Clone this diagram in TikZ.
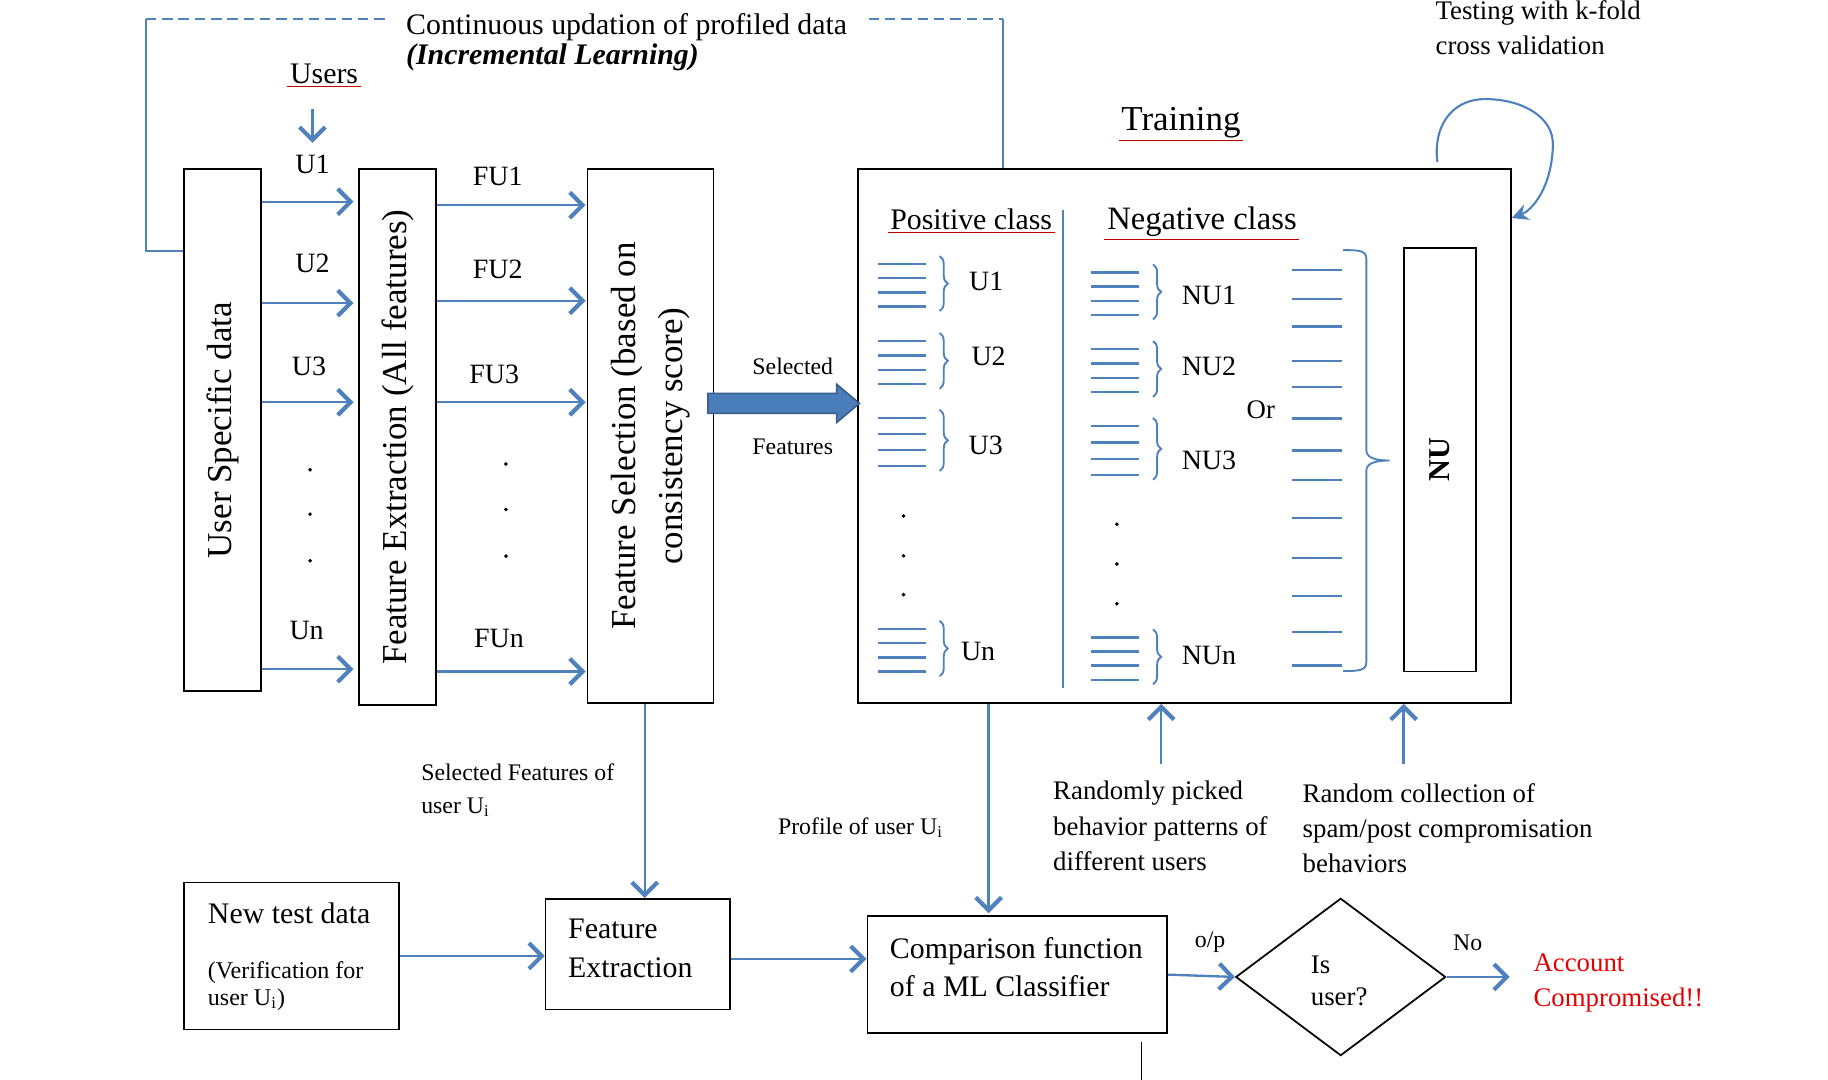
\documentclass[tikz,border=0pt]{standalone}
\usepackage{fontspec}
\setmainfont{Liberation Serif}
\usetikzlibrary{arrows.meta,shapes.geometric,shapes.arrows,decorations.pathreplacing}
\definecolor{lineblue}{RGB}{79,129,189}
\definecolor{fillblue}{RGB}{74,126,187}
\definecolor{darkblue}{RGB}{56,93,138}
\definecolor{ulred}{RGB}{192,0,0}
\definecolor{alertred}{RGB}{228,0,0}
\tikzset{
  every node/.style={inner sep=0pt},
  box/.style={draw, line width=0.75pt},
  arr/.style={lineblue, line width=1pt, -{Straight Barb[length=5.5pt,width=11pt,line width=1.8pt]}},
  bline/.style={lineblue, line width=1pt},
  fb/.style={lineblue, line width=0.8pt},
  dsh/.style={fb, dash pattern=on 4.5pt off 2.5pt},
  ul/.style={inner sep=1pt, append after command={(\tikzlastnode.south west) edge[draw=ulred, line width=0.5pt] (\tikzlastnode.south east)}},
  f10/.style={font=\fontsize{10.2}{14}\selectfont},
  f11/.style={font=\fontsize{11.5}{15.3}\selectfont},
  f12/.style={font=\fontsize{12}{14}\selectfont},
  f13/.style={font=\fontsize{12.8}{16.5}\selectfont},
  f15/.style={font=\fontsize{15}{20}\selectfont}
}
\begin{document}
\begin{tikzpicture}[x=0.5pt, y=-0.5pt]
    \useasboundingbox (0,0) rectangle (1568,926);
    \node[box, minimum width=33pt, minimum height=224pt] (usd) at (191,369) {};
    \node[box, minimum width=33pt, minimum height=230pt] (fea) at (341,375) {};
    \node[box, minimum width=54pt, minimum height=229pt] (fsel) at (558,374) {};
    \node[box, minimum width=280pt, minimum height=229pt] (train) at (1016,374) {};
    \node[box, minimum width=31pt, minimum height=181.5pt] (nu) at (1235,394.5) {};
    \node[box, minimum width=92pt, minimum height=63pt] (ntd) at (250,820) {};
    \node[box, minimum width=79pt, minimum height=47.5pt] (fext) at (547,818.5) {};
    \node[box, minimum width=128.5pt, minimum height=50pt] (cmp) at (872.5,836) {};
    \node[box, diamond, minimum width=90pt, minimum height=67.5pt] (dia) at (1150,838) {};

    \node[f15, rotate=90] (usdt) at (usd.center) {User Specific data};
    \node[f15, rotate=90] (feat) at (fea.center) {Feature Extraction (All features)};
    \node[f15, rotate=90, align=center] (fselt) at (fsel.center) {Feature Selection (based on\\consistency score)};
    \node[font=\fontsize{13}{13}\selectfont\bfseries, rotate=90] (nut) at (nu.center) {NU};

    \node[anchor=west, align=left, font=\fontsize{12.8}{12.9}\selectfont] (upd) at (348,36) {Continuous updation of profiled data\\\textbf{\textit{(Incremental Learning)}}};
    \coordinate (fbl) at (125,16);
    \coordinate (fbr) at (860,16);
    \draw[fb] (usd.west |- 0,215) -- (fbl |- 0,215) -- (fbl);
    \draw[dsh] (fbl) -- ([xshift=-9pt]upd.west |- fbl);
    \draw[dsh] ([xshift=9pt]upd.east |- fbr) -- (fbr);
    \draw[fb] (fbr) -- (train.north -| fbr);

    \node[f13, ul] (users) at (278,63) {Users};
    \foreach \lab/\x/\y in {U1/268/141, U2/268/226, U3/265/314, Un/263/541}
      \node[f12] (\lab) at (\x,\y) {\lab};
    \foreach \lab/\x/\y in {FU1/427/151, FU2/427/231, FU3/424/321, FUn/428/548}
      \node[f12] (\lab) at (\x,\y) {\lab};
    \draw[arr, shorten <=10pt, shorten >=5pt] (users.south -| U1) -- (U1);
    \foreach \ya/\yb in {173/176, 260/258, 345/345, 574/576} {
      \draw[arr, shorten >=2pt] (usd.east |- 0,\ya) -- (fea.west |- 0,\ya);
      \draw[arr, shorten >=0.5pt] (fea.east |- 0,\yb) -- (fsel.west |- 0,\yb);
    }
    \foreach \x/\y in {266/403, 266/441, 266/481, 434/398, 434/437, 434/477, 775/442.6, 775/476.7, 775/510, 958/449.6, 958/483.8, 958/517.8}
      \fill (\x,\y) circle (0.85pt);

    \node[f10] (sel) at (680,314) {Selected};
    \node[f10] (feats) at (680,383) {Features};
    \node[single arrow, draw=darkblue, fill=fillblue, line width=0.7pt, inner ysep=3.95pt, minimum height=65pt, minimum width=15.7pt, single arrow head extend=3.9pt, single arrow tip angle=80, anchor=tip, xshift=1.5pt] (sfarr) at (train.west |- 0,346) {};

    \node[f15, ul] (trn) at (1013,105) {Training};
    \node[f13, ul] (pos) at (833,188) {Positive class};
    \node[font=\fontsize{14}{16}\selectfont, ul] (neg) at (1031,190) {Negative class};
    \draw[bline] (912,180) -- (912,590);
    \foreach \x/\y/\g in {753/226.7/12.03, 753/292.6/12.27, 753/358.5/13.83, 753/539.5/12.17, 936/233.8/12.07, 936/299.5/12.33, 936/365.5/14, 936/546.8/12.07} {
      \foreach \k in {0,...,3}
        \draw[bline] (\x,\y+\k*\g) -- (\x+41,\y+\k*\g);
      \draw[fb, decorate, decoration={brace, amplitude=3.5pt}] (\x+53,\y-7) -- (\x+53,\y+3*\g+4);
    }
    \foreach \lab/\x/\y in {U1/846/241, U2/848/306, U3/845.5/382, Un/839/559}
      \node[f12] (p\lab) at (\x,\y) {\lab};
    \foreach \lab/\y in {NU1/253, NU2/314, NU3/395, NUn/562}
      \node[f12] (\lab) at (1037,\y) {\lab};
    \node[f11] (or) at (1081.5,351.7) {Or};
    \foreach \y in {231.6, 256.7, 280, 309.4, 331.8, 359, 386.3, 412, 444.5, 478.8, 511, 542.2, 570.8}
      \draw[bline] (1108,\y) -- (1151,\y);
    \draw[fb] (1152,214.5) .. controls (1166,214.5) and (1172,215) .. (1172,222) -- (1172,386) .. controls (1172,392) and (1178,395) .. (1192,395) .. controls (1178,395) and (1172,398) .. (1172,404) -- (1172,568) .. controls (1172,575) and (1166,575.6) .. (1152,575.6);

    \node[anchor=west, align=left, font=\fontsize{11.5}{15}\selectfont] (kfold) at (1231,24) {Testing with k-fold\\cross validation};
    \coordinate (ks) at (1233,139);
    \draw[lineblue, line width=0.9pt, -{Stealth[length=7pt,width=7pt]}] (ks) .. controls (1229,110) and (1244,85) .. (1274,85) .. controls (1305,85) and (1333,100) .. (1332,125) .. controls (1331,160) and (1315,180) .. (train.east |- 0,187);

    \node[anchor=west, align=left, font=\fontsize{10.2}{14}\selectfont] (sfu) at (361,678) {Selected Features of\\user U\textsubscript{i}};
    \node[f10, anchor=west] (prof) at (667,710) {Profile of user U\textsubscript{i}};
    \node[anchor=west, align=left, font=\fontsize{11.5}{15.3}\selectfont] (rnd) at (903,708.5) {Randomly picked\\behavior patterns of\\different users};
    \node[anchor=west, align=left, font=\fontsize{11.5}{15}\selectfont] (spam) at (1117,710) {Random collection of\\spam/post compromisation\\behaviors};
    \coordinate (prx) at (848,0);
    \coordinate (rp) at (996,655);
    \coordinate (rc) at (1204,655);
    \draw[arr] ([xshift=-2.5pt]fsel.south) -- ([xshift=-2.5pt]fsel.south |- fext.north);
    \draw[arr, shorten >=1pt] (train.south -| prx) -- (cmp.north -| prx);
    \draw[arr] (rp) -- (train.south -| rp);
    \draw[arr] (rc) -- (train.south -| rc);

    \node[f13, anchor=west] (ntdt) at (178,783) {New test data};
    \node[anchor=west, align=left, font=\fontsize{10.3}{11.5}\selectfont] (verif) at (178,845.5) {(Verification for\\user U\textsubscript{i})};
    \node[anchor=west, align=left, font=\fontsize{12.8}{16.5}\selectfont] (fextt) at (487,813.5) {Feature\\Extraction};
    \node[anchor=west, align=left, font=\fontsize{12.8}{16.5}\selectfont] (cmpt) at (763,829.5) {Comparison function\\of a ML Classifier};
    \node[anchor=west, align=left, font=\fontsize{11.5}{13.5}\selectfont] (isu) at (1124,841.5) {Is\\user?};
    \node[f10] (op) at (1038,808) {o/p};
    \node[f10] (no) at (1259,809) {No};
    \node[anchor=west, align=left, text=alertred, font=\fontsize{11.5}{15}\selectfont] (acc) at (1315,843) {Account\\Compromised!!};
    \draw[arr] (ntd.east) -- (ntd.east -| fext.west);
    \draw[arr] ([yshift=-2pt]fext.east) -- ([yshift=-2pt]fext.east -| cmp.west);
    \draw[arr] (cmp.east) -- (dia.west);
    \draw[arr, shorten >=10pt] (dia.east) -- (dia.east -| acc.west);
    \draw[line width=0.6pt] (cmp.south -| 979,0) ++(0,7) -- (979,926);
  \end{tikzpicture}
\end{document}
